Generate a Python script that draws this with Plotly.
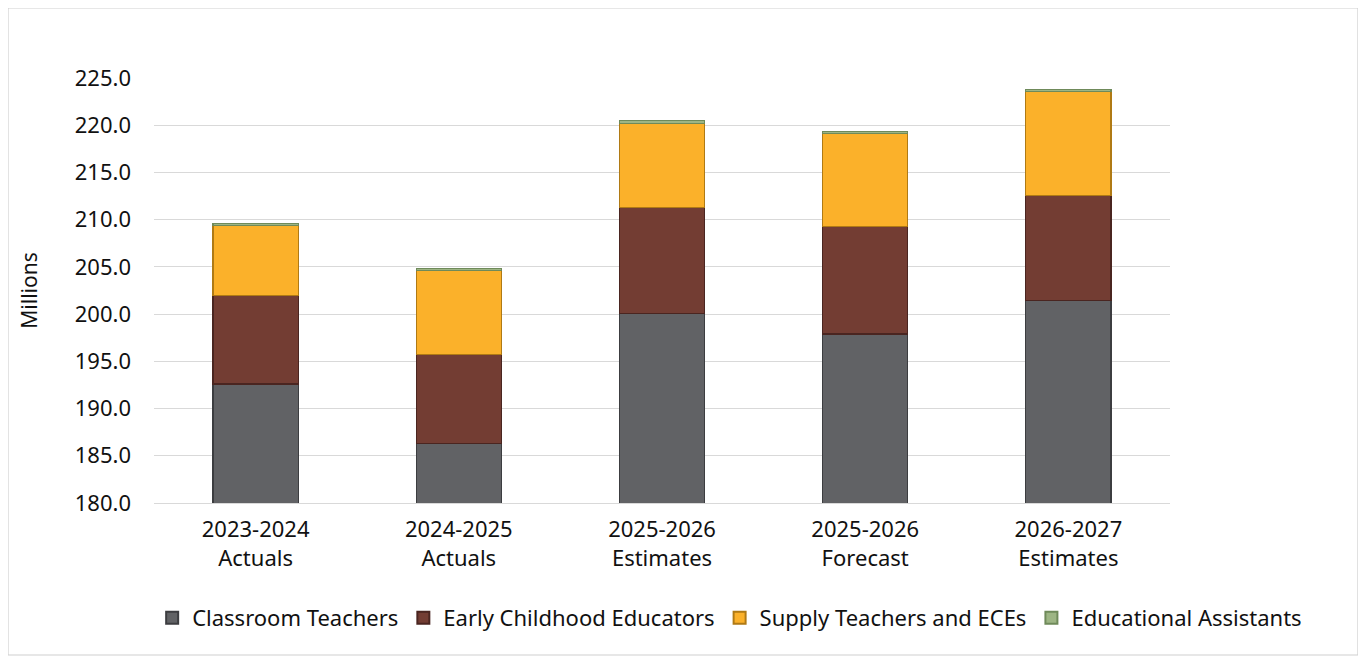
import plotly.graph_objects as go

categories = ["2023-2024<br>Actuals", "2024-2025<br>Actuals", "2025-2026<br>Estimates",
              "2025-2026<br>Forecast", "2026-2027<br>Estimates"]
classroom_teachers = [192.6, 186.3, 200.1, 197.9, 201.4]
early_childhood = [9.4, 9.4, 11.2, 11.4, 11.2]
supply_teachers = [7.4, 8.9, 8.9, 9.8, 11.0]
educational_assistants = [0.2, 0.2, 0.3, 0.2, 0.2]
tick_vals = [180, 185, 190, 195, 200, 205, 210, 215, 220, 225]

series = [
    ("Classroom Teachers", classroom_teachers, "#616265", "#3c3d40"),
    ("Early Childhood Educators", early_childhood, "#733d33", "#4a2520"),
    ("Supply Teachers and ECEs", supply_teachers, "#fbb12a", "#b07a14"),
    ("Educational Assistants", educational_assistants, "#9db584", "#6f8a5a"),
]

FONT = "Noto Sans, Open Sans, sans-serif"
FS = 22
fig = go.Figure()
for name, vals, col, edge in series:
    fig.add_trace(go.Bar(
        x=categories, y=vals, name=name,
        marker=dict(color=col, line=dict(color=edge, width=1.2)),
        width=0.42,
    ))

fig.update_layout(
    barmode="stack",
    width=1358, height=655,
    margin=dict(l=146, r=196, t=70, b=160, autoexpand=False),
    paper_bgcolor="white", plot_bgcolor="white",
    font=dict(family=FONT, size=FS, color="#111111"),
    showlegend=True,
    legend=dict(orientation="h", x=1.135, xanchor="right",
                y=-0.2706, yanchor="middle",
                font=dict(size=FS), itemsizing="constant", traceorder="normal",
                itemwidth=30),
    yaxis=dict(range=[180, 225], tickvals=tick_vals, tickformat=".1f",
               showgrid=True, gridcolor="#d9d9d9", gridwidth=1, zeroline=False,
               showline=False, ticks="", ticklabelstandoff=22,
               title=dict(text="Millions", font=dict(size=FS - 1), standoff=31),
               tickfont=dict(size=FS)),
    xaxis=dict(showline=True, linecolor="#d9d9d9", linewidth=1, ticks="",
               tickfont=dict(size=FS), tickangle=0, ticklabelstandoff=7),
    shapes=[dict(type="rect", xref="paper", yref="paper",
                 x0=-0.1437, x1=1.185, y0=-0.3576, y1=1.1647,
                 line=dict(color="#d0d0d0", width=1.2), fillcolor="rgba(0,0,0,0)",
                 layer="below")],
)

fig.write_html("out.html")
